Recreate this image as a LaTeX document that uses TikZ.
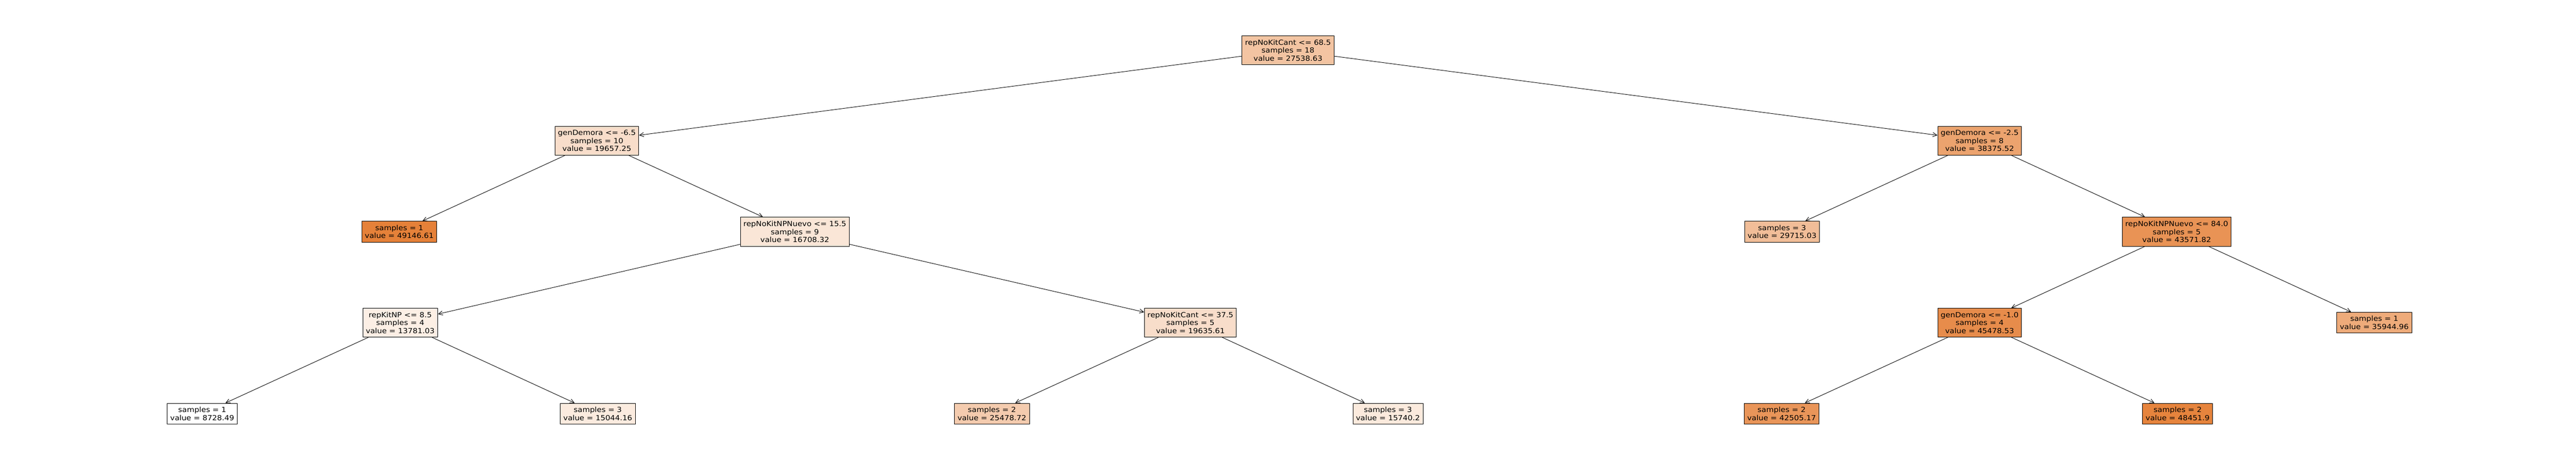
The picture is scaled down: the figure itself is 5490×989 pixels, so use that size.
\documentclass[tikz,border=0pt]{standalone}
\usepackage{fontspec}
\setmainfont[FakeStretch=1.09]{DejaVu Sans}
\usetikzlibrary{arrows.meta}
\definecolor{treeorange}{RGB}{229,129,57}
\begin{document}
\begin{tikzpicture}[x=1pt,y=-1pt,
  tnode/.style={draw=black, line width=1pt, align=center, inner xsep=6.5pt, inner ysep=8pt,
    font=\fontsize{15}{17}\selectfont, text=black},
  edge/.style={-{Straight Barb[length=9pt,width=9pt]}, line width=1pt}]
\useasboundingbox[fill=white] (0,0) rectangle (5490,989);
\node[tnode, fill=treeorange!47!white] (root) at (2745,107) {repNoKitCant <= 68.5\\samples = 18\\value = 27538.63};
\node[tnode, fill=treeorange!27!white] (L) at (1272,300) {genDemora <= -6.5\\samples = 10\\value = 19657.25};
\node[tnode, fill=treeorange!73!white] (R) at (4219,300) {genDemora <= -2.5\\samples = 8\\value = 38375.52};
\node[tnode, fill=treeorange!100!white] (LL) at (851,494) {samples = 1\\value = 49146.61};
\node[tnode, fill=treeorange!20!white] (LR) at (1694,494) {repNoKitNPNuevo <= 15.5\\samples = 9\\value = 16708.32};
\node[tnode, fill=treeorange!52!white] (RL) at (3798,494) {samples = 3\\value = 29715.03};
\node[tnode, fill=treeorange!86!white] (RR) at (4639,494) {repNoKitNPNuevo <= 84.0\\samples = 5\\value = 43571.82};
\node[tnode, fill=treeorange!13!white] (LRL) at (853,688) {repKitNP <= 8.5\\samples = 4\\value = 13781.03};
\node[tnode, fill=treeorange!27!white] (LRR) at (2537,688) {repNoKitCant <= 37.5\\samples = 5\\value = 19635.61};
\node[tnode, fill=treeorange!91!white] (RRL) at (4219,688) {genDemora <= -1.0\\samples = 4\\value = 45478.53};
\node[tnode, fill=treeorange!67!white] (RRR) at (5060,688) {samples = 1\\value = 35944.96};
\node[tnode, fill=white] (LRLL) at (431,882) {samples = 1\\value = 8728.49};
\node[tnode, fill=treeorange!16!white] (LRLR) at (1274,882) {samples = 3\\value = 15044.16};
\node[tnode, fill=treeorange!41!white] (LRRL) at (2114,882) {samples = 2\\value = 25478.72};
\node[tnode, fill=treeorange!17!white] (LRRR) at (2958,882) {samples = 3\\value = 15740.2};
\node[tnode, fill=treeorange!84!white] (RRLL) at (3797,882) {samples = 2\\value = 42505.17};
\node[tnode, fill=treeorange!98!white] (RRLR) at (4641,882) {samples = 2\\value = 48451.9};
\draw[edge] (root) -- (L);
\draw[edge] (root) -- (R);
\draw[edge] (L) -- (LL);
\draw[edge] (L) -- (LR);
\draw[edge] (R) -- (RL);
\draw[edge] (R) -- (RR);
\draw[edge] (LR) -- (LRL);
\draw[edge] (LR) -- (LRR);
\draw[edge] (RR) -- (RRL);
\draw[edge] (RR) -- (RRR);
\draw[edge] (LRL) -- (LRLL);
\draw[edge] (LRL) -- (LRLR);
\draw[edge] (LRR) -- (LRRL);
\draw[edge] (LRR) -- (LRRR);
\draw[edge] (RRL) -- (RRLL);
\draw[edge] (RRL) -- (RRLR);
\end{tikzpicture}
\end{document}
